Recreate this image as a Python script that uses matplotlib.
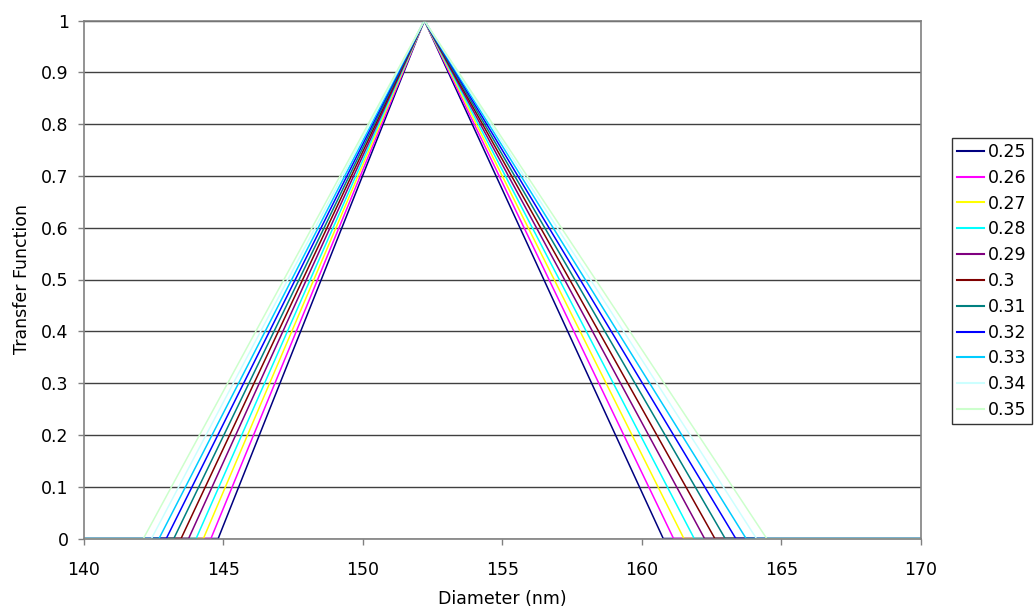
import matplotlib
matplotlib.use("Agg")
import matplotlib.pyplot as plt

plt.rcParams['font.family'] = ['DejaVu Sans']

labels = ["0.25", "0.26", "0.27", "0.28", "0.29", "0.3", "0.31", "0.32", "0.33", "0.34", "0.35"]
left_foot = [144.81, 144.55, 144.28, 144.02, 143.75, 143.48, 143.22, 142.95, 142.69, 142.42, 142.13]
peak_x = [152.2] * 11
right_foot = [160.76, 161.13, 161.50, 161.87, 162.24, 162.61, 162.98, 163.36, 163.73, 164.10, 164.47]
colors = ["#000080", "#FF00FF", "#FFFF00", "#00FFFF", "#800080", "#800000",
          "#008080", "#0000FF", "#00CCFF", "#CCFFFF", "#CCFFCC"]
x_min, x_max = 140, 170

W, H = 1035, 613
fig = plt.figure(figsize=(W / 100, H / 100), dpi=100)
ax_l, ax_r, ax_t, ax_b = 84, 921, 20.5, 538.5
ax = fig.add_axes([ax_l / W, 1 - ax_b / H, (ax_r - ax_l) / W, (ax_b - ax_t) / H])

for lab, lf, pk, rf, c in zip(labels, left_foot, peak_x, right_foot, colors):
    ax.plot([x_min, lf, pk, rf, x_max], [0, 0, 1, 0, 0], color=c, lw=1.1, label=lab)

ax.set_xlim(x_min, x_max)
ax.set_ylim(0, 1)
ax.set_xticks(range(140, 171, 5))
ax.set_yticks([i / 10 for i in range(11)])
ax.set_yticklabels(["0", "0.1", "0.2", "0.3", "0.4", "0.5", "0.6", "0.7", "0.8", "0.9", "1"])
ax.yaxis.grid(True, color="#404040", lw=1.0)
ax.set_axisbelow(True)
for s in ["left", "bottom", "top", "right"]:
    ax.spines[s].set_color("#808080")
    ax.spines[s].set_linewidth(1.2)
fs = 12.5
ax.tick_params(axis="x", direction="out", length=4, width=1, color="#808080", labelsize=fs, pad=12)
ax.tick_params(axis="y", direction="out", length=4.5, width=1, color="#808080", labelsize=fs, pad=6.5)
ax.set_xlabel("Diameter (nm)", fontsize=fs, labelpad=8)
ax.set_ylabel("Transfer Function", fontsize=fs, labelpad=7.5)

leg = fig.legend(loc="center left", bbox_to_anchor=(952 / W, 1 - 281 / H), fontsize=fs,
                 frameon=True, fancybox=False, edgecolor="#000000",
                 handlelength=1.54, handletextpad=0.25, labelspacing=0.45,
                 borderpad=0.3, borderaxespad=0)
leg.get_frame().set_linewidth(1.0)
for line in leg.get_lines():
    line.set_linewidth(1.5)

fig.savefig("out.png", dpi=100)
